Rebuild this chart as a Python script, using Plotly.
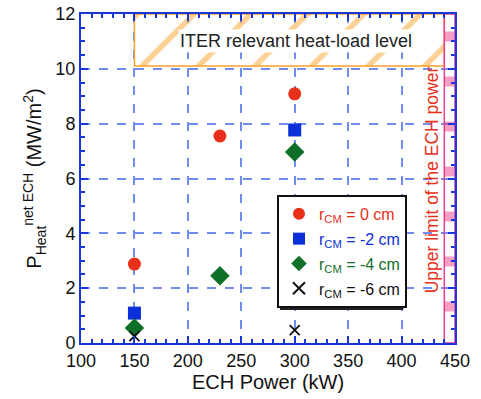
import plotly.graph_objects as go

# ECH power scan (kW) and net ECH heat load (MW/m^2) for each r_CM offset
power_r0 = [150, 230, 300]
heat_r0 = [2.88, 7.55, 9.09]
power_r2 = [150, 300]
heat_r2 = [1.09, 7.77]
power_r4 = [150, 230, 300]
heat_r4 = [0.55, 2.45, 6.97]
power_r6 = [150, 300]
heat_r6 = [0.25, 0.47]

# reference levels
iter_level = 10.1          # ITER relevant heat-load level (MW/m^2)
iter_span = [150, 440]     # power range of the ITER band (kW)
ech_limit = [440, 450]     # upper limit of the available ECH power (kW)
y_max = 12

blue_axis = "#1a35d8"
grid_col = "#6f8cf0"
orange = "#f7a12a"
pink = "#ec3d8c"

fig = go.Figure()

# ITER band
fig.add_trace(go.Bar(
    x=[(iter_span[0] + iter_span[1]) / 2], width=[iter_span[1] - iter_span[0]],
    base=[iter_level], y=[y_max - iter_level],
    marker=dict(color="rgba(0,0,0,0)", line=dict(color=orange, width=1.5),
                pattern=dict(shape="/", size=40, solidity=0.14,
                             fgcolor=orange, bgcolor="rgba(0,0,0,0)",
                             fillmode="overlay")),
    showlegend=False, hoverinfo="skip"))

# ECH power limit band
fig.add_trace(go.Bar(
    x=[(ech_limit[0] + ech_limit[1]) / 2], width=[ech_limit[1] - ech_limit[0]],
    base=[0], y=[y_max],
    marker=dict(color="rgba(0,0,0,0)", line=dict(color=pink, width=1.5),
                pattern=dict(shape="-", size=45, solidity=0.22,
                             fgcolor=pink, bgcolor="rgba(0,0,0,0)",
                             fillmode="overlay")),
    showlegend=False, hoverinfo="skip"))

def lab(col, val):
    return f"<span style='color:{col}'>r<sub>CM</sub> = {val} cm</span>"

fig.add_trace(go.Scatter(x=power_r0, y=heat_r0, mode="markers", name=lab("#e8301a", "0"),
                         legendgroup="a",
                         marker=dict(symbol="circle", size=13, color="#e8301a")))
fig.add_trace(go.Scatter(x=power_r2, y=heat_r2, mode="markers", name=lab("#0b2fd8", "-2"),
                         legendgroup="b",
                         marker=dict(symbol="square", size=13, color="#0b2fd8")))
fig.add_trace(go.Scatter(x=power_r4, y=heat_r4, mode="markers", name=lab("#0f6e28", "-4"),
                         legendgroup="c",
                         marker=dict(symbol="diamond", size=15, color="#0f6e28")))
fig.add_trace(go.Scatter(x=power_r6, y=heat_r6, mode="markers", name=lab("#111111", "-6"),
                         legendgroup="d",
                         marker=dict(symbol="x-thin", size=10,
                                     line=dict(color="#111111", width=1.8))))

fig.add_annotation(x=301, y=11.0, text="ITER relevant heat-load level", showarrow=False,
                   font=dict(size=18, color="#222222"), bgcolor="white")
fig.add_annotation(x=428, y=5.95, text="Upper limit of the ECH power", showarrow=False,
                   textangle=-90, font=dict(size=17.5, color="#e8301a"))

# legend drop shadow
fig.add_shape(type="rect", xref="paper", yref="paper",
              x0=0.532, x1=0.862, y0=0.1, y1=0.44,
              fillcolor="#222222", line=dict(width=0), layer="above")

axis_common = dict(
    showline=True, linecolor=blue_axis, linewidth=2, mirror="ticks",
    ticks="inside", ticklen=7, tickwidth=1.5, tickcolor=blue_axis,
    showgrid=True, gridcolor=grid_col, gridwidth=1.5, griddash="dash",
    zeroline=False, tickfont=dict(size=18, color="#111111"), automargin=False,
)

fig.update_xaxes(range=[100, 450], dtick=50, **axis_common,
                 minor=dict(dtick=10, ticks="inside", ticklen=4, tickcolor=blue_axis, showgrid=False),
                 title=dict(text="ECH Power (kW)", font=dict(size=20, color="#111111"), standoff=4))
fig.update_yaxes(range=[0, y_max], dtick=2, **axis_common,
                 minor=dict(dtick=0.5, ticks="inside", ticklen=4, tickcolor=blue_axis, showgrid=False),
                 title=dict(text="P<sub>Heat</sub><sup>net ECH</sup> (MW/m<sup>2</sup>)",
                            font=dict(size=20, color="#111111"), standoff=8))

fig.update_layout(
    width=481, height=399,
    margin=dict(l=81, r=26, t=14, b=56),
    plot_bgcolor="white", paper_bgcolor="white",
    font=dict(family="Liberation Sans, Arial, sans-serif"),
    barmode="overlay",
    legend=dict(x=0.524, y=0.45, xanchor="left", yanchor="top",
                bgcolor="white", bordercolor="#111111", borderwidth=2,
                font=dict(size=16), itemsizing="constant", tracegroupgap=1),
)

fig.write_html("out.html")
